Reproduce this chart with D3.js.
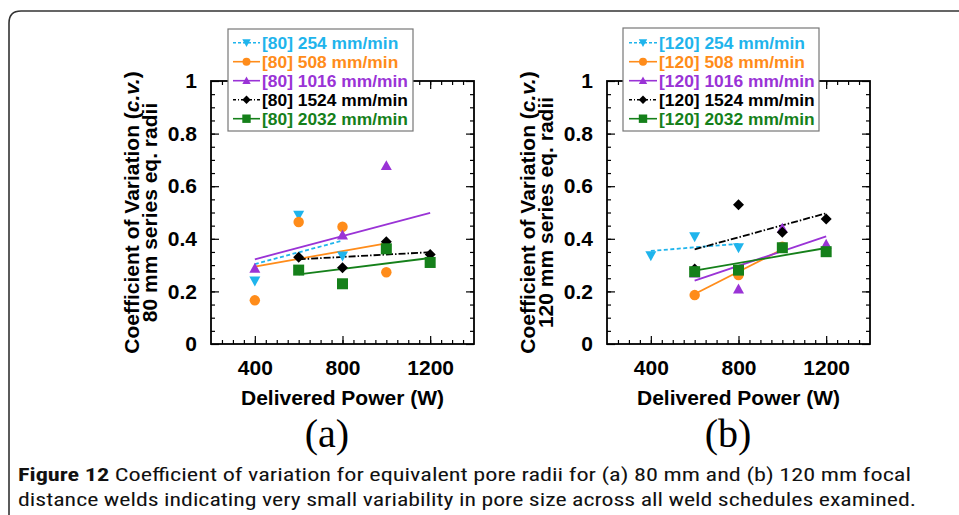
<!DOCTYPE html>
<html><head><meta charset="utf-8">
<script src="https://cdn.jsdelivr.net/npm/d3@7"></script>
<style>
html,body{margin:0;padding:0;background:#fff;}
svg{display:block;}
</style></head>
<body>
<svg id="chart" width="959" height="515"></svg>
<script>
// ---------- data ----------
const xTicks = [400, 800, 1200];
const yTicks = [0, 0.2, 0.4, 0.6, 0.8, 1];
const yTickLabels = ["0", "0.2", "0.4", "0.6", "0.8", "1"];
const speeds = ["254 mm/min", "508 mm/min", "1016 mm/min", "1524 mm/min", "2032 mm/min"];
const focal = ["80", "120"];
const panelLabels = ["(a)", "(b)"];
const yTitle2 = ["80 mm series eq. radii", "120 mm series eq. radii"];

// 80 mm series: [power W, c.v.]
const cv80_254  = [[400,0.24],[600,0.49],[800,0.335]];
const cv80_508  = [[400,0.166],[600,0.464],[800,0.446],[1000,0.273]];
const cv80_1016 = [[400,0.288],[800,0.414],[1000,0.678]];
const cv80_1524 = [[600,0.33],[800,0.29],[1000,0.389],[1200,0.34]];
const cv80_2032 = [[600,0.281],[800,0.229],[1000,0.362],[1200,0.31]];
// 80 mm linear trend lines (end points)
const fit80_254  = [[400,0.304],[800,0.393]];
const fit80_508  = [[400,0.294],[1000,0.383]];
const fit80_1016 = [[400,0.322],[1200,0.499]];
const fit80_1524 = [[600,0.322],[1200,0.349]];
const fit80_2032 = [[600,0.265],[1200,0.327]];

// 120 mm series
const cv120_254  = [[400,0.336],[600,0.408],[800,0.366]];
const cv120_508  = [[600,0.186],[800,0.262],[1000,0.37]];
const cv120_1016 = [[600,0.27],[800,0.209],[1000,0.44],[1200,0.379]];
const cv120_1524 = [[600,0.285],[800,0.529],[1000,0.425],[1200,0.475]];
const cv120_2032 = [[600,0.275],[800,0.281],[1000,0.366],[1200,0.351]];
// 120 mm linear trend lines (end points)
const fit120_254  = [[400,0.354],[800,0.381]];
const fit120_508  = [[600,0.19],[1000,0.36]];
const fit120_1016 = [[600,0.241],[1200,0.409]];
const fit120_1524 = [[600,0.36],[1200,0.497]];
const fit120_2032 = [[600,0.279],[1200,0.365]];

const caption1Bold = "Figure 12";
const caption1 = " Coefficient of variation for equivalent pore radii for (a) 80 mm and (b) 120 mm focal";
const caption2 = "distance welds indicating very small variability in pore size across all weld schedules examined.";

// ---------- styles ----------
const colors = ["#1fb4ec", "#ff8c1a", "#9a33d6", "#000000", "#15801a"];
const symbols = ["triDown", "circle", "triUp", "diamond", "square"];
const dashes = ["4,2.5", null, null, "7,2,1.5,2", null];

const panels = [
  {left: 211, points: [cv80_254, cv80_508, cv80_1016, cv80_1524, cv80_2032],
   fits: [fit80_254, fit80_508, fit80_1016, fit80_1524, fit80_2032],
   legend: {x: 228, y: 29, w: 185, h: 102, lineX0: 233, lineX1: 260, textX: 262}},
  {left: 607, points: [cv120_254, cv120_508, cv120_1016, cv120_1524, cv120_2032],
   fits: [fit120_254, fit120_508, fit120_1016, fit120_1524, fit120_2032],
   legend: {x: 623, y: 28, w: 196, h: 103, lineX0: 629, lineX1: 657, textX: 659}}
];
const plotTop = 81, plotBottom = 344, plotW = 263;
const FONT = "'Liberation Sans', Arial, sans-serif";

const svg = d3.select("#chart");

// outer rounded frame (top-left corner visible)
svg.append("path")
  .attr("d", "M9,520 L9,23 Q9,11 21,11 L965,11")
  .attr("fill", "none").attr("stroke", "#333").attr("stroke-width", 1.6);

function marker(g, type, cx, cy, color, s) {
  s = s || 5.5;
  let el;
  if (type === "circle") {
    el = g.append("circle").attr("cx", cx).attr("cy", cy).attr("r", s * 0.95);
  } else if (type === "square") {
    el = g.append("rect").attr("x", cx - s).attr("y", cy - s).attr("width", 2 * s).attr("height", 2 * s);
  } else if (type === "diamond") {
    el = g.append("path").attr("d", `M${cx},${cy - s}L${cx + s},${cy}L${cx},${cy + s}L${cx - s},${cy}Z`);
  } else if (type === "triUp") {
    el = g.append("path").attr("d", `M${cx},${cy - s}L${cx + s},${cy + s * 0.8}L${cx - s},${cy + s * 0.8}Z`);
  } else {
    el = g.append("path").attr("d", `M${cx},${cy + s}L${cx + s},${cy - s * 0.8}L${cx - s},${cy - s * 0.8}Z`);
  }
  el.attr("fill", color);
}

panels.forEach((p, pi) => {
  const x = d3.scaleLinear().domain([200, 1400]).range([p.left, p.left + plotW]);
  const y = d3.scaleLinear().domain([0, 1]).range([plotBottom, plotTop]);
  const g = svg.append("g");

  // minor / major ticks (inward)
  const xMinor = d3.range(250, 1400, 50);
  const yMinor = d3.range(0.05, 1, 0.05);

  const axB = d3.axisBottom(x).tickValues(xMinor).tickSize(-4).tickFormat("");
  const axT = d3.axisTop(x).tickValues(xMinor).tickSize(-4).tickFormat("");
  const axL = d3.axisLeft(y).tickValues(yMinor).tickSize(-4).tickFormat("");
  const axR = d3.axisRight(y).tickValues(yMinor).tickSize(-4).tickFormat("");
  const axBM = d3.axisBottom(x).tickValues(xTicks).tickSize(-8).tickPadding(16).tickFormat(d3.format("d"));
  const axTM = d3.axisTop(x).tickValues(xTicks).tickSize(-8).tickFormat("");
  const axLM = d3.axisLeft(y).tickValues(yTicks).tickSize(-8).tickPadding(14).tickFormat((d, i) => yTickLabels[i]);
  const axRM = d3.axisRight(y).tickValues(yTicks).tickSize(-8).tickFormat("");

  [[axB, `translate(0,${plotBottom})`], [axT, `translate(0,${plotTop})`],
   [axL, `translate(${p.left},0)`], [axR, `translate(${p.left + plotW},0)`],
   [axBM, `translate(0,${plotBottom})`], [axTM, `translate(0,${plotTop})`],
   [axLM, `translate(${p.left},0)`], [axRM, `translate(${p.left + plotW},0)`]].forEach(([ax, tr]) => {
    const a = g.append("g").attr("transform", tr).call(ax);
    a.select(".domain").remove();
    a.selectAll("line").attr("stroke", "#000").attr("stroke-width", 1.2);
    a.selectAll("text").attr("font-family", FONT).attr("font-weight", "bold")
      .attr("font-size", 21).attr("fill", "#000");
  });
  // frame
  g.append("rect").attr("x", p.left).attr("y", plotTop).attr("width", plotW)
    .attr("height", plotBottom - plotTop).attr("fill", "none")
    .attr("stroke", "#000").attr("stroke-width", 1.8);

  // axis titles
  g.append("text").attr("x", p.left + plotW / 2).attr("y", 405)
    .attr("text-anchor", "middle").attr("font-family", FONT).attr("font-weight", "bold")
    .attr("font-size", 21).text("Delivered Power (W)");
  const cy = (plotTop + plotBottom) / 2;
  const t1 = g.append("text").attr("transform", `translate(${p.left - 72},${cy}) rotate(-90)`)
    .attr("text-anchor", "middle").attr("font-family", FONT).attr("font-weight", "bold")
    .attr("font-size", 21);
  t1.append("tspan").text("Coefficient of Variation (");
  t1.append("tspan").attr("font-style", "italic").text("c.v.");
  t1.append("tspan").text(")");
  g.append("text").attr("transform", `translate(${p.left - 54},${cy}) rotate(-90)`)
    .attr("text-anchor", "middle").attr("font-family", FONT).attr("font-weight", "bold")
    .attr("font-size", 21).text(yTitle2[pi]);

  // series
  const line = d3.line().x(d => x(d[0])).y(d => y(d[1]));
  p.fits.forEach((f, si) => {
    g.append("path").attr("d", line(f)).attr("fill", "none")
      .attr("stroke", colors[si]).attr("stroke-width", 1.8)
      .attr("stroke-dasharray", dashes[si]);
  });
  p.points.forEach((pts, si) => {
    pts.forEach(d => marker(g, symbols[si], x(d[0]), y(d[1]), colors[si]));
  });

  // legend
  const L = p.legend;
  g.append("rect").attr("x", L.x).attr("y", L.y).attr("width", L.w).attr("height", L.h)
    .attr("fill", "#fff").attr("stroke", "#777").attr("stroke-width", 1.2);
  speeds.forEach((s, si) => {
    const ry = 42.7 + si * 19;
    g.append("line").attr("x1", L.lineX0).attr("x2", L.lineX1).attr("y1", ry).attr("y2", ry)
      .attr("stroke", colors[si]).attr("stroke-width", 1.6)
      .attr("stroke-dasharray", si === 0 ? "3,2" : (si === 3 ? "3,2,1,2" : null));
    marker(g, symbols[si], (L.lineX0 + L.lineX1) / 2, ry, colors[si], 4.2);
    g.append("text").attr("x", L.textX).attr("y", ry + 6)
      .attr("font-family", FONT).attr("font-weight", "bold").attr("font-size", 17.4)
      .attr("fill", colors[si]).text(`[${focal[pi]}] ${s}`);
  });

  // panel label
  svg.append("text").attr("x", pi === 0 ? 327 : 728).attr("y", 447)
    .attr("text-anchor", "middle").attr("font-family", "'Liberation Serif', 'Times New Roman', serif")
    .attr("font-size", 40).text(panelLabels[pi]);
});

// caption
const CAP = "'Liberation Sans Narrow', 'Roboto Condensed', 'DejaVu Sans Condensed', 'Open Sans', sans-serif";
const c1 = svg.append("text").attr("x", 18).attr("y", 481)
  .attr("font-family", CAP).attr("font-size", 19).attr("fill", "#111")
  .attr("textLength", 893).attr("lengthAdjust", "spacingAndGlyphs");
c1.append("tspan").attr("font-weight", "bold").text(caption1Bold);
c1.append("tspan").text(caption1);
svg.append("text").attr("x", 18).attr("y", 506)
  .attr("font-family", CAP).attr("font-size", 19).attr("fill", "#111")
  .attr("textLength", 898).attr("lengthAdjust", "spacingAndGlyphs")
  .text(caption2);
</script>
</body></html>
